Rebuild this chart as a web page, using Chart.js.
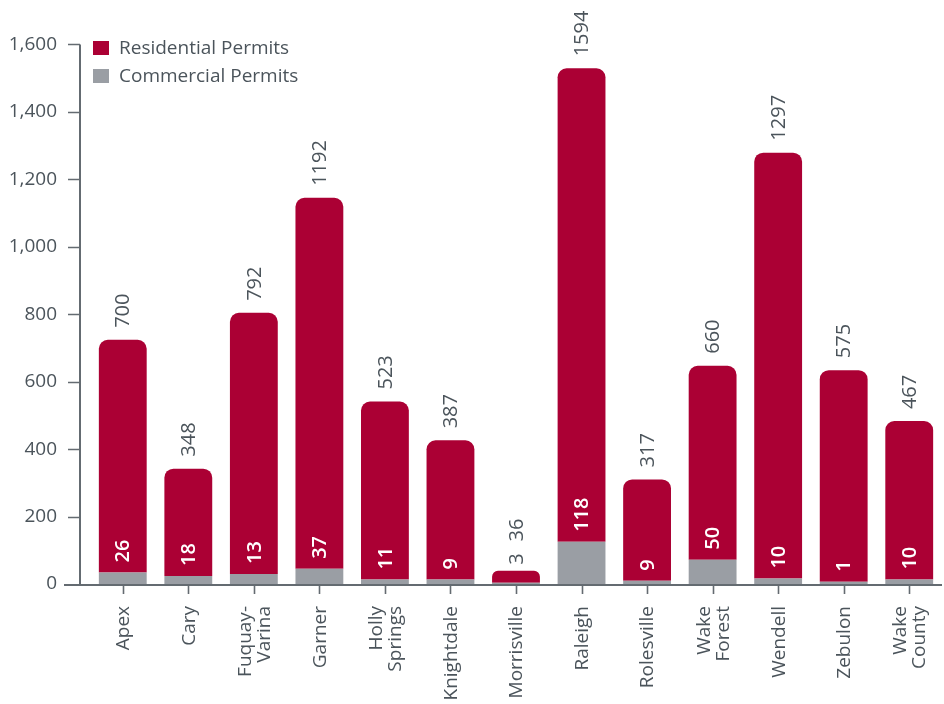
<!DOCTYPE html>
<html>
<head>
<meta charset="utf-8">
<script src="https://cdn.jsdelivr.net/npm/chart.js@4.4.1/dist/chart.umd.min.js"></script>
<style>
  html, body { margin: 0; padding: 0; background: #ffffff; }
  #wrap { width: 944px; height: 704px; }
</style>
</head>
<body>
<div id="wrap"><canvas id="c" width="944" height="704"></canvas></div>
<script>
// ---- data ----
const categories = [['Apex'], ['Cary'], ['Fuquay-', 'Varina'], ['Garner'], ['Holly', 'Springs'], ['Knightdale'], ['Morrisville'], ['Raleigh'], ['Rolesville'], ['Wake', 'Forest'], ['Wendell'], ['Zebulon'], ['Wake', 'County']];
const residentialValues = [690, 318, 774, 1100, 528, 413, 35, 1404, 300, 575, 1263, 627, 470];
const commercialValues = [34, 24, 30, 45, 13, 13, 4, 125, 10, 72, 16, 7, 13];
const residentialLabels = ['700', '348', '792', '1192', '523', '387', '36', '1594', '317', '660', '1297', '575', '467'];
const commercialLabels = ['26', '18', '13', '37', '11', '9', '3', '118', '9', '50', '10', '1', '10'];
const seriesNames = ['Commercial Permits', 'Residential Permits'];
const yTickMax = 1600;
const yTickStep = 200;

// ---- styles ----
const RED = '#ab0034';
const GRAY = '#9a9ea4';
const TEXT = '#4b545b';
const AXIS = '#646b71';
const FONT = "'Open Sans', 'DejaVu Sans', sans-serif";

const customPlugin = {
  id: 'custom',
  afterDatasetsDraw(chart) {
    const ctx = chart.ctx;
    const area = chart.chartArea;
    const yScale = chart.scales.y;
    const xScale = chart.scales.x;
    const axisX = area.left - 10;
    ctx.save();
    // axes
    ctx.strokeStyle = AXIS;
    ctx.lineWidth = 2;
    ctx.beginPath();
    ctx.moveTo(axisX, yScale.getPixelForValue(yTickMax));
    ctx.lineTo(axisX, area.bottom);
    ctx.moveTo(axisX - 16, area.bottom + 1);
    ctx.lineTo(area.right, area.bottom + 1);
    ctx.stroke();
    ctx.lineWidth = 1.6;
    ctx.beginPath();
    for (let v = yTickStep; v <= yTickMax; v += yTickStep) {
      const py = Math.round(yScale.getPixelForValue(v)) + 0.5;
      ctx.moveTo(axisX - 12, py);
      ctx.lineTo(axisX, py);
    }
    categories.forEach((c, i) => {
      const px = Math.round(xScale.getPixelForValue(i)) + 0.5;
      ctx.moveTo(px, area.bottom + 1);
      ctx.lineTo(px, area.bottom + 10);
    });
    ctx.stroke();

    // category labels (rotated, reading upward, ending just below the ticks)
    ctx.font = '19px ' + FONT;
    ctx.fillStyle = TEXT;
    ctx.textAlign = 'right';
    ctx.textBaseline = 'middle';
    const lineH = 19;
    categories.forEach((lines, i) => {
      const px = xScale.getPixelForValue(i);
      lines.forEach((ln, j) => {
        const off = (j - (lines.length - 1) / 2) * lineH;
        ctx.save();
        ctx.translate(px + off, area.bottom + 22);
        ctx.rotate(-Math.PI / 2);
        ctx.fillText(ln, 0, 1);
        ctx.restore();
      });
    });

    // data labels
    const metaC = chart.getDatasetMeta(0);
    const metaR = chart.getDatasetMeta(1);
    ctx.textBaseline = 'middle';
    ctx.textAlign = 'left';
    categories.forEach((c, i) => {
      const bR = metaR.data[i];
      const bC = metaC.data[i];
      const x = bR.x;
      const resH = bR.base - bR.y;
      let topStart;
      if (resH > 50) {
        ctx.save();
        ctx.translate(x, bC.y - 10);
        ctx.rotate(-Math.PI / 2);
        ctx.font = '600 20px ' + FONT;
        ctx.fillStyle = '#ffffff';
        ctx.fillText(commercialLabels[i], 0, 1);
        ctx.restore();
        topStart = bR.y - 12;
      } else {
        ctx.save();
        ctx.translate(x, bR.y - 6);
        ctx.rotate(-Math.PI / 2);
        ctx.font = '20px ' + FONT;
        ctx.fillStyle = TEXT;
        ctx.fillText(commercialLabels[i], 0, 1);
        const w = ctx.measureText(commercialLabels[i]).width;
        ctx.restore();
        topStart = bR.y - 6 - w - 12;
      }
      ctx.save();
      ctx.translate(x, topStart);
      ctx.rotate(-Math.PI / 2);
      ctx.font = '20px ' + FONT;
      ctx.fillStyle = TEXT;
      ctx.fillText(residentialLabels[i], 0, 1);
      ctx.restore();
    });

    // legend (inside plot, top-left)
    const legendItems = [
      { name: seriesNames[1], color: RED },
      { name: seriesNames[0], color: GRAY }
    ];
    ctx.font = '19px ' + FONT;
    ctx.textAlign = 'left';
    ctx.textBaseline = 'middle';
    legendItems.forEach((it, k) => {
      const cy = 48 + k * 28;
      ctx.fillStyle = it.color;
      ctx.fillRect(93, cy - 7, 16, 14);
      ctx.fillStyle = TEXT;
      ctx.fillText(it.name, 119, cy + 1);
    });
    ctx.restore();
  }
};

new Chart(document.getElementById('c'), {
  type: 'bar',
  data: {
    labels: categories,
    datasets: [
      {
        label: seriesNames[0],
        data: commercialValues,
        backgroundColor: GRAY,
        borderWidth: 0,
        borderRadius: 0,
        barPercentage: 0.73,
        categoryPercentage: 1
      },
      {
        label: seriesNames[1],
        data: residentialValues,
        backgroundColor: RED,
        borderWidth: 0,
        borderRadius: { topLeft: 9, topRight: 9, bottomLeft: 0, bottomRight: 0 },
        borderSkipped: false,
        barPercentage: 0.73,
        categoryPercentage: 1
      }
    ]
  },
  options: {
    responsive: false,
    animation: false,
    layout: { padding: { top: 42, right: 2, bottom: 0, left: 0 } },
    plugins: {
      legend: { display: false },
      tooltip: { enabled: false }
    },
    scales: {
      x: {
        stacked: true,
        grid: { display: false, drawTicks: false },
        border: { display: false },
        ticks: { display: false },
        afterFit(scale) {
          scale.height = 120;
          scale.paddingLeft = 0;
          scale.paddingRight = 0;
        }
      },
      y: {
        stacked: true,
        min: 0,
        max: yTickMax,
        grid: { display: false, drawTicks: false },
        border: { display: false },
        ticks: {
          stepSize: yTickStep,
          color: TEXT,
          font: { family: FONT, size: 19 },
          padding: 33
        },
        afterFit(scale) { scale.width = 90; }
      }
    }
  },
  plugins: [customPlugin]
});
</script>
</body>
</html>
